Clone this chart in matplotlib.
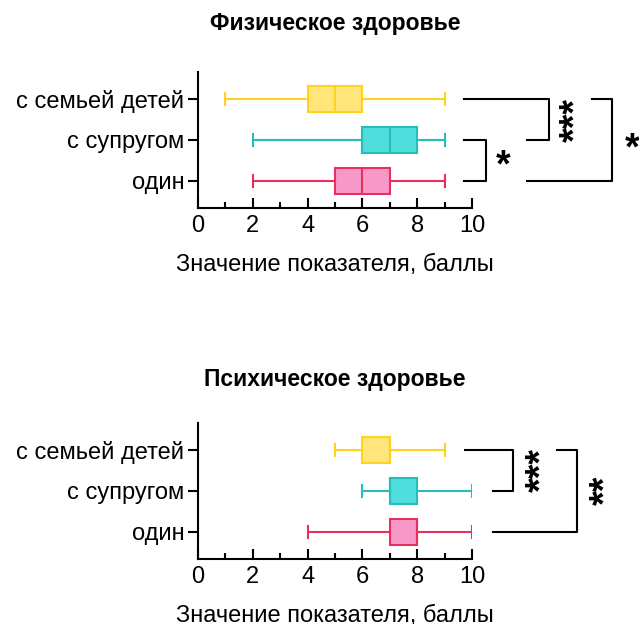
import matplotlib.pyplot as plt

plt.rcParams['font.family'] = ['Liberation Sans', 'DejaVu Sans']

groups = ['один', 'с супругом', 'с семьей детей']
colors_edge = ['#E8305F', '#27BDBA', '#FFD21F']
colors_fill = ['#F799C8', '#4FDEDC', '#FFE57A']

# physical health: whislo, q1, med, q3, whishi
phys_lo = [2, 2, 1]
phys_q1 = [5, 6, 4]
phys_med = [6, 7, 5]
phys_q3 = [7, 8, 6]
phys_hi = [9, 9, 9]

# mental health
ment_lo = [4, 6, 5]
ment_q1 = [7, 7, 6]
ment_med = [8, 7, 7]
ment_q3 = [8, 8, 7]
ment_hi = [10, 10, 9]


def draw_panel(ax, lo, q1, med, q3, hi, title, tpad):
    for i in range(3):
        st = [dict(whislo=lo[i], q1=q1[i], med=med[i], q3=q3[i], whishi=hi[i], fliers=[])]
        c = colors_edge[i]
        ax.bxp(st, positions=[i + 1], vert=False, widths=0.65, patch_artist=True,
               boxprops=dict(facecolor=colors_fill[i], edgecolor=c, linewidth=1.5),
               medianprops=dict(color=c, linewidth=1.5),
               whiskerprops=dict(color=c, linewidth=1.5),
               capprops=dict(color=c, linewidth=1.5), capwidths=0.3)
    ax.set_xlim(0, 10)
    ax.set_ylim(0.34, 3.66)
    ax.set_yticks([1, 2, 3])
    ax.set_yticklabels(groups)
    ax.set_xticks([0, 2, 4, 6, 8, 10])
    ax.set_xticks([1, 3, 5, 7, 9], minor=True)
    ax.tick_params(axis='y', labelsize=17, width=1.5, length=7, pad=3)
    ax.tick_params(axis='x', labelsize=17, width=1.5, length=7, direction='in', pad=5)
    ax.tick_params(axis='x', which='minor', width=1.5, length=4, direction='in')
    for s in ['top', 'right']:
        ax.spines[s].set_visible(False)
    for s in ['left', 'bottom']:
        ax.spines[s].set_linewidth(1.5)
    ax.set_xlabel('Значение показателя, баллы', fontsize=17, labelpad=12)
    ax.set_title(title, fontsize=16.5, fontweight='bold', pad=tpad)


def bracket(ax, x0a, x0b, xv, ya, yb, stars, xs, ys, rot):
    kw = dict(color='black', linewidth=1.5, clip_on=False)
    ax.plot([x0a, xv, xv, x0b], [ya, ya, yb, yb], **kw)
    ax.text(xs, ys, stars, fontsize=27, fontweight='bold', rotation=rot,
            ha='center', va='center', clip_on=False)


fig = plt.figure(figsize=(6.39, 6.24), dpi=100)
ax1 = fig.add_axes([0.3099, 0.6667, 0.4288, 0.2179])
ax2 = fig.add_axes([0.3099, 0.1042, 0.4288, 0.2179])

draw_panel(ax1, phys_lo, phys_q1, phys_med, phys_q3, phys_hi, 'Физическое здоровье', 30)
draw_panel(ax2, ment_lo, ment_q1, ment_med, ment_q3, ment_hi, 'Психическое здоровье', 27)

bracket(ax1, 9.71, 9.71, 10.51, 2, 1, '*', 11.13, 1.35, 0)
bracket(ax1, 9.71, 12.0, 12.81, 3, 2, '***', 13.8, 2.48, 90)
bracket(ax1, 14.38, 12.0, 15.11, 3, 1, '*', 15.84, 1.78, 0)

bracket(ax2, 9.74, 10.77, 11.5, 3, 2, '***', 12.55, 2.5, 90)
bracket(ax2, 13.1, 10.77, 13.83, 3, 1, '**', 14.9, 2.02, 90)

fig.savefig('out.png', dpi=100)
